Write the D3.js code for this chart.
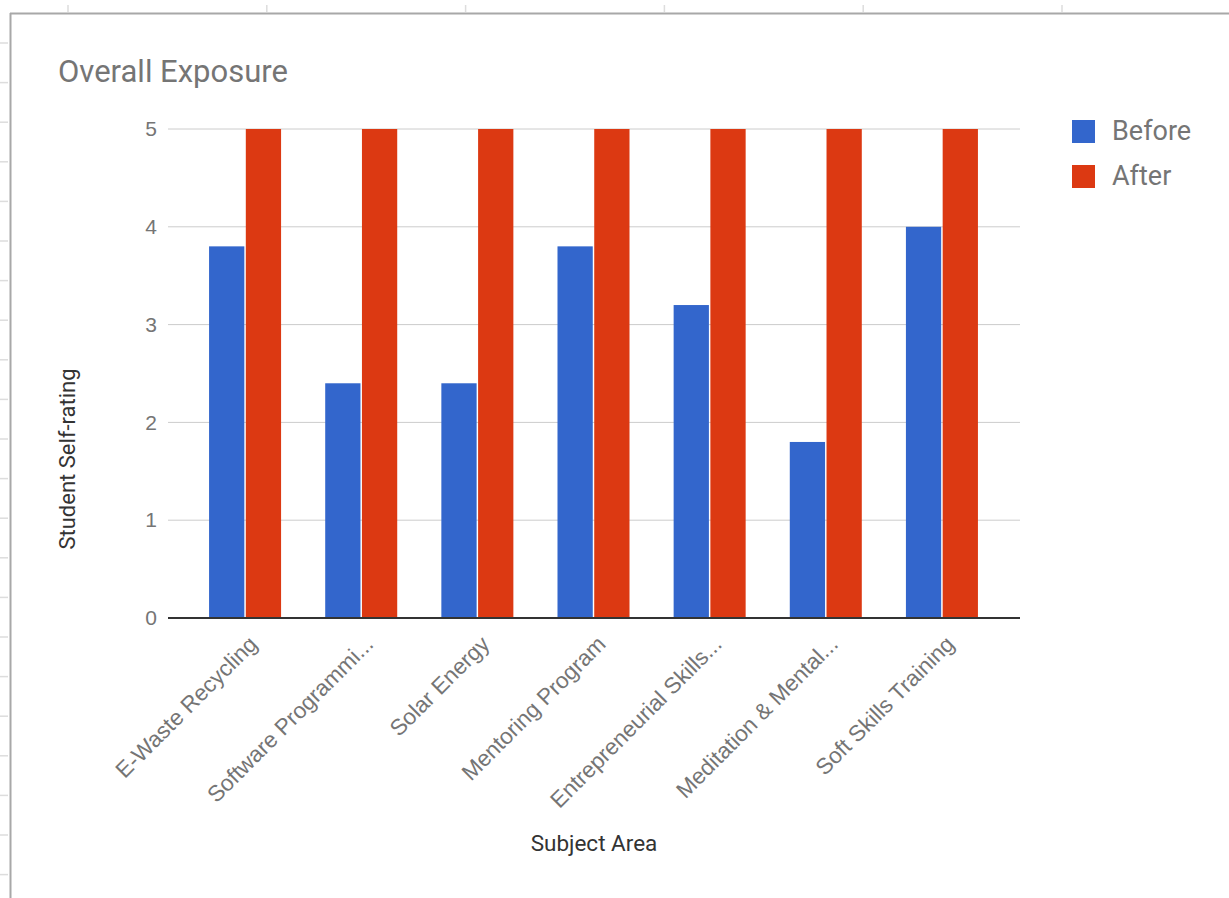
<!DOCTYPE html>
<html>
<head>
<meta charset="utf-8">
<script src="https://cdn.jsdelivr.net/npm/d3@7/dist/d3.min.js"></script>
<style>
  body { margin: 0; background: #fff; }
  svg { display: block; font-family: Roboto, Arial, sans-serif; }
  .axis .domain { display: none; }
  .axis text { fill: #757575; }
</style>
</head>
<body>
<div class="chart"></div>
<script>
var categories = [
  "E-Waste Recycling",
  "Software Programmi...",
  "Solar Energy",
  "Mentoring Program",
  "Entrepreneurial Skills...",
  "Meditation & Mental...",
  "Soft Skills Training"
];
var beforeValues = [3.8, 2.4, 2.4, 3.8, 3.2, 1.8, 4.0];
var afterValues = [5, 5, 5, 5, 5, 5, 5];
var seriesNames = ["Before", "After"];
var seriesColors = ["#3366cc", "#dc3912"];
var yTicks = [0, 1, 2, 3, 4, 5];

var width = 1229, height = 898;

var svg = d3.select("div.chart")
  .append("svg")
  .attr("width", width)
  .attr("height", height);

// spreadsheet frame behind the chart
svg.append("line")
  .attr("x1", 10).attr("x2", width).attr("y1", 13.5).attr("y2", 13.5)
  .attr("stroke", "#a8a8a8").attr("stroke-width", 2);
svg.append("line")
  .attr("x1", 10.5).attr("x2", 10.5).attr("y1", 13).attr("y2", height)
  .attr("stroke", "#a8a8a8").attr("stroke-width", 2);
d3.range(6).forEach(function(i) {
  var x = 68 + i * 198.8;
  svg.append("line")
    .attr("x1", x).attr("x2", x).attr("y1", 5).attr("y2", 12)
    .attr("stroke", "#ddd").attr("stroke-width", 1.5);
});
d3.range(22).forEach(function(i) {
  var y = 43 + i * 39.6;
  svg.append("line")
    .attr("x1", 0).attr("x2", 8).attr("y1", y).attr("y2", y)
    .attr("stroke", "#ddd").attr("stroke-width", 1.5);
});

var plot = { left: 168, right: 1020, top: 129, bottom: 618 };

var xScale = d3.scaleBand()
  .domain(categories)
  .range([187, 1000])
  .paddingInner(0.38)
  .paddingOuter(0.19);

var xSub = d3.scaleBand()
  .domain(seriesNames)
  .range([0, xScale.bandwidth()])
  .paddingInner(0.04);

var yScale = d3.scaleLinear()
  .domain([0, 5])
  .range([plot.bottom, plot.top]);

// grid
svg.append("g")
  .attr("class", "grid")
  .selectAll("line")
  .data(yTicks.slice(1))
  .enter()
  .append("line")
  .attr("x1", plot.left).attr("x2", plot.right)
  .attr("y1", d => yScale(d)).attr("y2", d => yScale(d))
  .attr("stroke", "#cccccc").attr("stroke-width", 1);

// y axis labels
var yAxis = d3.axisLeft(yScale)
  .tickValues(yTicks)
  .tickFormat(d3.format("d"))
  .tickSize(0)
  .tickPadding(11);

svg.append("g")
  .attr("class", "y axis")
  .attr("transform", `translate(${plot.left},0)`)
  .call(yAxis)
  .selectAll("text")
  .attr("font-size", 21);

// bars
var groups = svg.append("g")
  .attr("class", "bars")
  .selectAll("g")
  .data(categories)
  .enter()
  .append("g")
  .attr("transform", d => `translate(${xScale(d)},0)`);

groups.selectAll("rect")
  .data((d, i) => [
    { key: "Before", value: beforeValues[i] },
    { key: "After", value: afterValues[i] }
  ])
  .enter()
  .append("rect")
  .attr("x", d => xSub(d.key))
  .attr("y", d => yScale(d.value))
  .attr("width", xSub.bandwidth())
  .attr("height", d => yScale(0) - yScale(d.value))
  .attr("fill", (d, i) => seriesColors[i]);

// baseline
svg.append("line")
  .attr("x1", plot.left).attr("x2", plot.right)
  .attr("y1", yScale(0)).attr("y2", yScale(0))
  .attr("stroke", "#333").attr("stroke-width", 2);

// x labels
var xAxis = d3.axisBottom(xScale).tickSize(0).tickPadding(0);

svg.append("g")
  .attr("class", "x axis")
  .attr("transform", `translate(0,${plot.bottom})`)
  .call(xAxis)
  .selectAll("text")
  .attr("font-size", 22.5)
  .attr("text-anchor", "end")
  .attr("dy", "0.35em")
  .attr("transform", "translate(8,22) rotate(-45)");

// titles
svg.append("text")
  .attr("x", 58).attr("y", 82)
  .attr("font-size", 31)
  .attr("fill", "#757575")
  .text("Overall Exposure");

svg.append("text")
  .attr("transform", "translate(75,459) rotate(-90)")
  .attr("text-anchor", "middle")
  .attr("font-size", 22)
  .attr("fill", "#333")
  .text("Student Self-rating");

svg.append("text")
  .attr("x", 594).attr("y", 851)
  .attr("text-anchor", "middle")
  .attr("font-size", 22.5)
  .attr("fill", "#333")
  .text("Subject Area");

// legend
var legend = svg.append("g")
  .attr("class", "legend")
  .selectAll("g")
  .data(seriesNames)
  .enter()
  .append("g")
  .attr("transform", (d, i) => `translate(1072,${120 + i * 45})`);

legend.append("rect")
  .attr("width", 23).attr("height", 23)
  .attr("fill", (d, i) => seriesColors[i]);

legend.append("text")
  .attr("x", 40).attr("y", 20)
  .attr("font-size", 27)
  .attr("fill", "#757575")
  .text(d => d);
</script>
</body>
</html>
